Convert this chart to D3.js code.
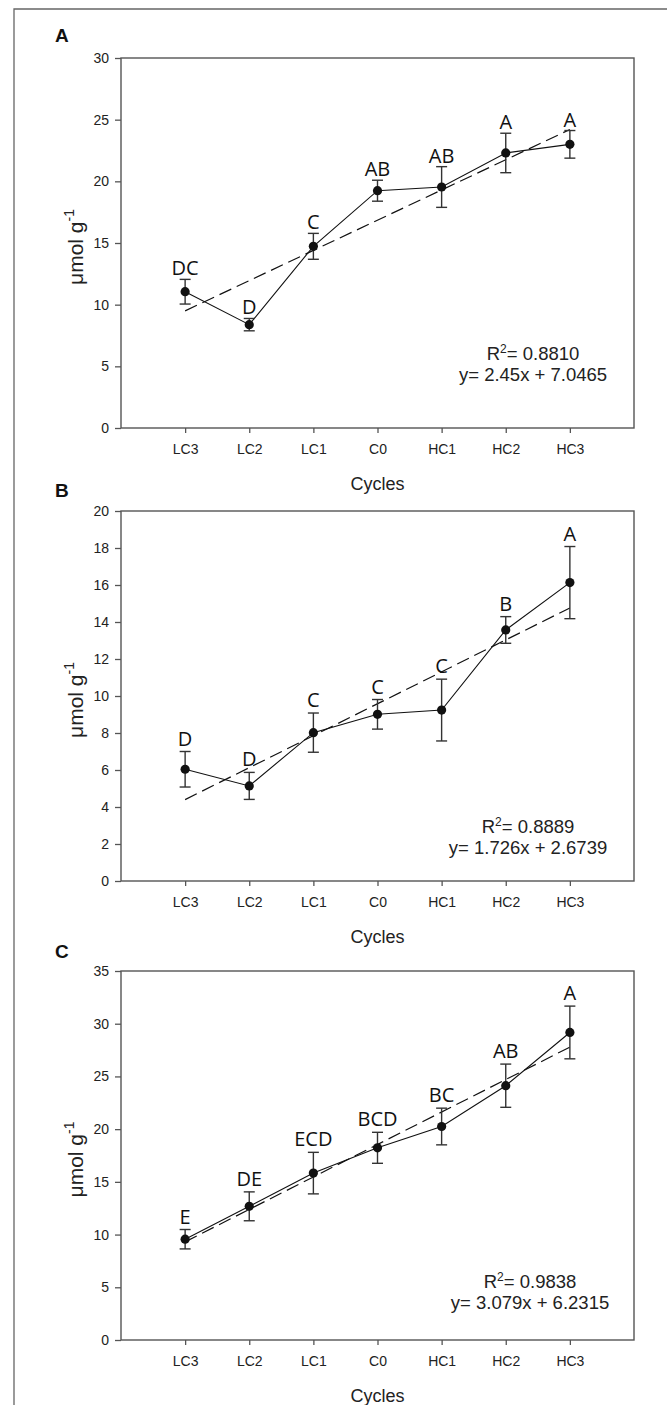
<!DOCTYPE html>
<html>
<head>
<meta charset="utf-8">
<script src="https://cdn.jsdelivr.net/npm/d3@7"></script>
<style>
  body { margin: 0; background: #fff; }
  svg { display: block; }
  .tick text { font-family: "Liberation Sans", Arial, sans-serif; font-size: 14px; fill: #222; }
  .tick line { stroke: #555; stroke-width: 1.3; }
  .domain { display: none; }
</style>
</head>
<body>
<div class="svgContainer"></div>
<script>
const WIDTH = 667;
const HEIGHT = 1405;
const PLOT_LEFT = 121;
const PLOT_RIGHT = 634;
const DOT_RADIUS = 4.6;
const CAP_HALF = 5.5;

const cycles = ['LC3', 'LC2', 'LC1', 'C0', 'HC1', 'HC2', 'HC3'];

// panel A
const meanA = [11.05, 8.38, 14.73, 19.24, 19.54, 22.3, 23.0];
const errA = [1.0, 0.5, 1.05, 0.85, 1.65, 1.6, 1.12];
const lettersA = ['DC', 'D', 'C', 'AB', 'AB', 'A', 'A'];
const trendA = [9.50, 24.20];
const yTicksA = [0, 5, 10, 15, 20, 25, 30];
const r2A = '0.8810';
const eqA = 'y= 2.45x + 7.0465';

// panel B
const meanB = [6.04, 5.14, 8.02, 9.01, 9.24, 13.57, 16.13];
const errB = [0.96, 0.73, 1.06, 0.8, 1.67, 0.72, 1.95];
const lettersB = ['D', 'D', 'C', 'C', 'C', 'B', 'A'];
const trendB = [4.40, 14.76];
const yTicksB = [0, 2, 4, 6, 8, 10, 12, 14, 16, 18, 20];
const r2B = '0.8889';
const eqB = 'y= 1.726x + 2.6739';

// panel C
const meanC = [9.56, 12.68, 15.83, 18.23, 20.25, 24.12, 29.17];
const errC = [0.92, 1.37, 1.97, 1.47, 1.74, 2.05, 2.5];
const lettersC = ['E', 'DE', 'ECD', 'BCD', 'BC', 'AB', 'A'];
const trendC = [9.31, 27.78];
const yTicksC = [0, 5, 10, 15, 20, 25, 30, 35];
const r2C = '0.9838';
const eqC = 'y= 3.079x + 6.2315';

const svg = d3.select('.svgContainer')
  .append('svg')
  .attr('width', WIDTH)
  .attr('height', HEIGHT);

// outer frame (only top and left edges show in the picture)
svg.append('path')
  .attr('d', `M14,${HEIGHT} L14,9 L${WIDTH},9`)
  .attr('fill', 'none')
  .attr('stroke', '#666')
  .attr('stroke-width', 1.3);

const xScale = d3.scaleLinear()
  .domain([0, cycles.length + 1])
  .range([PLOT_LEFT, PLOT_RIGHT]);

function drawPanel(p) {
  const yScale = d3.scaleLinear()
    .domain([0, d3.max(p.yTicks)])
    .range([p.bottom, p.top]);

  const rows = cycles.map((c, i) => ({
    cycle: c, idx: i + 1, mean: p.mean[i], err: p.err[i], letter: p.letters[i]
  }));

  // axes
  svg.append('g')
    .attr('transform', `translate(0, ${p.bottom})`)
    .call(d3.axisBottom(xScale)
      .tickValues(rows.map(d => d.idx))
      .tickFormat(d => cycles[d - 1])
      .tickSize(5)
      .tickPadding(11));

  svg.append('g')
    .attr('transform', `translate(${PLOT_LEFT}, 0)`)
    .call(d3.axisLeft(yScale)
      .tickValues(p.yTicks)
      .tickFormat(d3.format('d'))
      .tickSize(6)
      .tickPadding(6));

  svg.append('rect')
    .attr('x', PLOT_LEFT)
    .attr('y', p.top)
    .attr('width', PLOT_RIGHT - PLOT_LEFT)
    .attr('height', p.bottom - p.top)
    .attr('fill', 'none')
    .attr('stroke', '#555')
    .attr('stroke-width', 1.4);

  // regression line
  svg.append('line')
    .attr('x1', xScale(1))
    .attr('x2', xScale(cycles.length))
    .attr('y1', yScale(p.trend[0]))
    .attr('y2', yScale(p.trend[1]))
    .attr('stroke', '#111')
    .attr('stroke-width', 1.2)
    .attr('stroke-dasharray', '13,6');

  // mean line
  svg.append('path')
    .datum(rows)
    .attr('d', d3.line().x(d => xScale(d.idx)).y(d => yScale(d.mean)))
    .attr('fill', 'none')
    .attr('stroke', '#111')
    .attr('stroke-width', 1.1);

  // error bars
  const bars = svg.append('g')
    .attr('stroke', '#333')
    .attr('stroke-width', 1.4);

  bars.selectAll('line.stem')
    .data(rows)
    .enter()
    .append('line')
    .attr('class', 'stem')
    .attr('x1', d => xScale(d.idx))
    .attr('x2', d => xScale(d.idx))
    .attr('y1', d => yScale(d.mean - d.err))
    .attr('y2', d => yScale(d.mean + d.err));

  bars.selectAll('line.capTop')
    .data(rows)
    .enter()
    .append('line')
    .attr('class', 'capTop')
    .attr('x1', d => xScale(d.idx) - CAP_HALF)
    .attr('x2', d => xScale(d.idx) + CAP_HALF)
    .attr('y1', d => yScale(d.mean + d.err))
    .attr('y2', d => yScale(d.mean + d.err));

  bars.selectAll('line.capBottom')
    .data(rows)
    .enter()
    .append('line')
    .attr('class', 'capBottom')
    .attr('x1', d => xScale(d.idx) - CAP_HALF)
    .attr('x2', d => xScale(d.idx) + CAP_HALF)
    .attr('y1', d => yScale(d.mean - d.err))
    .attr('y2', d => yScale(d.mean - d.err));

  svg.append('g')
    .selectAll('circle')
    .data(rows)
    .enter()
    .append('circle')
    .attr('cx', d => xScale(d.idx))
    .attr('cy', d => yScale(d.mean))
    .attr('r', DOT_RADIUS)
    .attr('fill', '#111');

  // significance letters
  svg.append('g')
    .selectAll('text')
    .data(rows)
    .enter()
    .append('text')
    .attr('x', d => xScale(d.idx))
    .attr('y', d => yScale(d.mean + d.err) - p.letterGap)
    .attr('text-anchor', 'middle')
    .style('font-family', '"Open Sans", sans-serif')
    .style('font-size', '20px')
    .style('fill', '#111')
    .text(d => d.letter);

  // R² and equation
  const stats = svg.append('text')
    .attr('x', p.statX)
    .attr('y', p.bottom - p.statOffset)
    .attr('text-anchor', 'middle')
    .style('font-family', '"Liberation Sans", Arial, sans-serif')
    .style('font-size', '18.5px')
    .style('fill', '#222');
  stats.append('tspan').text('R');
  stats.append('tspan').attr('dy', -7).style('font-size', '12px').text('2');
  stats.append('tspan').attr('dy', 7).text('= ' + p.r2);

  svg.append('text')
    .attr('x', p.statX)
    .attr('y', p.bottom - p.statOffset + 21)
    .attr('text-anchor', 'middle')
    .style('font-family', '"Liberation Sans", Arial, sans-serif')
    .style('font-size', '18.5px')
    .style('fill', '#222')
    .text(p.eq);

  // axis titles
  svg.append('text')
    .attr('x', (PLOT_LEFT + PLOT_RIGHT) / 2)
    .attr('y', p.bottom + 62)
    .attr('text-anchor', 'middle')
    .style('font-family', '"Liberation Sans", Arial, sans-serif')
    .style('font-size', '18px')
    .style('fill', '#222')
    .text('Cycles');

  const yLabel = svg.append('text')
    .attr('transform', `translate(83, ${(p.top + p.bottom) / 2 + 4}) rotate(-90)`)
    .attr('text-anchor', 'middle')
    .style('font-family', '"Liberation Sans", Arial, sans-serif')
    .style('font-size', '21px')
    .style('fill', '#222');
  yLabel.append('tspan').text('μmol g');
  yLabel.append('tspan').attr('dy', -9).style('font-size', '14px').text('-1');

  svg.append('text')
    .attr('x', 55)
    .attr('y', p.letterY)
    .style('font-family', '"Liberation Sans", Arial, sans-serif')
    .style('font-weight', 'bold')
    .style('font-size', '19px')
    .style('fill', '#111')
    .text(p.name);
}

drawPanel({
  name: 'A', top: 58, bottom: 428, letterY: 42,
  mean: meanA, err: errA, letters: lettersA, trend: trendA, yTicks: yTicksA,
  r2: r2A, eq: eqA, statX: 533, statOffset: 68, letterGap: 4
});

drawPanel({
  name: 'B', top: 511, bottom: 881, letterY: 497,
  mean: meanB, err: errB, letters: lettersB, trend: trendB, yTicks: yTicksB,
  r2: r2B, eq: eqB, statX: 528, statOffset: 48, letterGap: 6
});

drawPanel({
  name: 'C', top: 971, bottom: 1340, letterY: 958,
  mean: meanC, err: errC, letters: lettersC, trend: trendC, yTicks: yTicksC,
  r2: r2C, eq: eqC, statX: 530, statOffset: 52, letterGap: 6
});
</script>
</body>
</html>
